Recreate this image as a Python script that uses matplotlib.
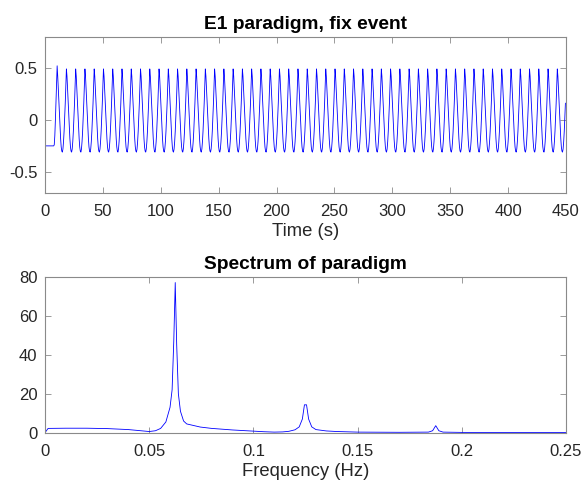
import matplotlib

matplotlib.use("Agg")
import matplotlib.pyplot as plt
import numpy as np

# ---- top panel: paradigm time course (0.5 s steps) ----
DT = 0.5
onset_v = [-0.25] * 16 + [-0.24, -0.15, 0.0, 0.18, 0.36, 0.52]   # 0 .. 10.5 s
cycle_v = [0.42, 0.30, 0.17, 0.04, -0.08, -0.18, -0.26, -0.30,
           -0.31, -0.28, -0.21, -0.11, 0.02, 0.16, 0.32, 0.49]     # one 8 s period after a peak
N_CYCLES = 54
tail_v = [0.42, 0.30, 0.17, 0.04, -0.08, -0.18, -0.26, -0.30,
          -0.31, -0.28, -0.21, -0.11, 0.02, 0.16]                  # last partial period

# ---- bottom panel: spectrum ----
freq = [0, 0.0015, 0.01, 0.02, 0.03, 0.04, 0.045, 0.05, 0.053, 0.0555, 0.058, 0.06,
        0.061, 0.0618, 0.0625, 0.0632, 0.064, 0.065, 0.0665, 0.068, 0.0745, 0.08, 0.09,
        0.1, 0.105, 0.11, 0.114, 0.117, 0.12, 0.122, 0.1235, 0.1245, 0.1255, 0.1265,
        0.128, 0.13, 0.135, 0.14, 0.15, 0.17, 0.184, 0.186, 0.1875, 0.189, 0.191, 0.2,
        0.22, 0.25]
power = [0, 2.2, 2.3, 2.3, 2.1, 1.6, 1.1, 0.6, 1.0, 2.2, 5.5, 13,
         22, 47, 77, 45, 20, 11, 6, 4.5, 2.9, 2.2, 1.4,
         0.8, 0.5, 0.3, 0.4, 0.7, 1.5, 3, 7, 14.3, 14.3, 7,
         3, 1.6, 0.9, 0.6, 0.3, 0.2, 0.3, 1.0, 3.6, 1.0, 0.3, 0.15,
         0.1, 0.1]

sig = np.array(onset_v + cycle_v * N_CYCLES + tail_v)
t = np.arange(len(sig)) * DT

plt.rcParams["font.family"] = ["Liberation Sans", "DejaVu Sans"]
GRAY = "#262626"
EDGE = "#8a8a8a"

fig = plt.figure(figsize=(5.85, 4.84), dpi=100)
ax1 = fig.add_axes([0.0769, 0.6019, 0.8906, 0.3223])
ax2 = fig.add_axes([0.0769, 0.1060, 0.8906, 0.3223])

ax1.plot(t, sig, color="#0000ff", lw=0.6)
ax1.set_xlim(0, 450)
ax1.set_ylim(-0.7, 0.8)
ax1.set_xticks(np.arange(0, 451, 50))
ax1.set_yticks([-0.5, 0, 0.5])
ax1.set_yticklabels(["-0.5", "0", "0.5"])
ax1.set_xlabel("Time (s)", fontsize=13.3, color=GRAY, labelpad=3)
ax1.set_title("E1 paradigm, fix event", fontsize=13.8, fontweight="bold", pad=5.5)

ax2.plot(freq, power, color="#0000ff", lw=0.6)
ax2.set_xlim(0, 0.25)
ax2.set_ylim(0, 80)
ax2.set_xticks([0, 0.05, 0.1, 0.15, 0.2, 0.25])
ax2.set_xticklabels(["0", "0.05", "0.1", "0.15", "0.2", "0.25"])
ax2.set_yticks([0, 20, 40, 60, 80])
ax2.set_xlabel("Frequency (Hz)", fontsize=13.3, color=GRAY, labelpad=3)
ax2.set_title("Spectrum of paradigm", fontsize=13.8, fontweight="bold", pad=5.5)

for a in (ax1, ax2):
    a.tick_params(direction="in", top=True, right=True, length=4, width=0.6,
                  labelsize=12, colors=GRAY, color=EDGE)
    a.tick_params(axis="x", pad=8)
    a.tick_params(axis="y", pad=5.5)
    for s in a.spines.values():
        s.set_color(EDGE)
        s.set_linewidth(0.8)

fig.savefig("out.png", dpi=100)
